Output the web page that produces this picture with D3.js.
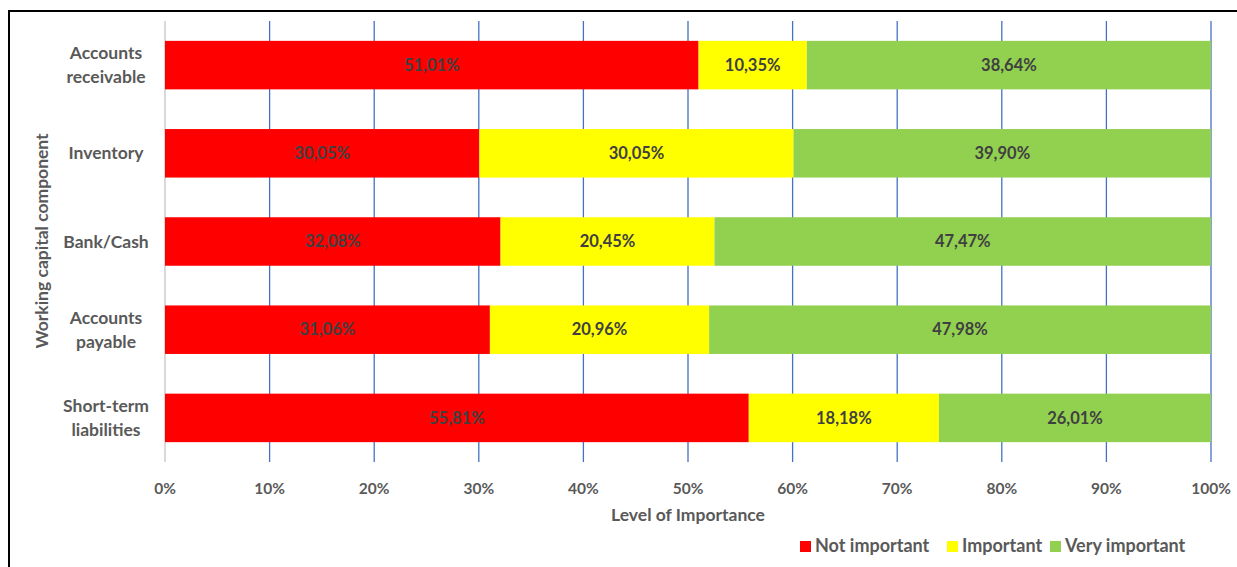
<!DOCTYPE html>
<html>
<head>
<meta charset="utf-8">
<script src="https://cdn.jsdelivr.net/npm/d3@7"></script>
<style>
  body { margin: 0; background: #fff; }
  text { font-family: Lato, "Open Sans", sans-serif; font-weight: bold; fill: #595959; }
</style>
</head>
<body>
<div id="chart"></div>
<script>
// categories, top to bottom
var categories = [
  ['Accounts', 'receivable'],
  ['Inventory'],
  ['Bank/Cash'],
  ['Accounts', 'payable'],
  ['Short-term', 'liabilities']
];
var seriesNames = ['Not important', 'Important', 'Very important'];
var notImportant = [51.01, 30.05, 32.08, 31.06, 55.81];
var important = [10.35, 30.05, 20.45, 20.96, 18.18];
var veryImportant = [38.64, 39.90, 47.47, 47.98, 26.01];
var xTicks = [0, 10, 20, 30, 40, 50, 60, 70, 80, 90, 100];

var colors = ['#ff0000', '#ffff00', '#92d050'];

var width = 1237, height = 567;
var margin = { top: 21, left: 165, right: 26, bottom: 105 };

var svg = d3.select('#chart')
            .append('svg')
            .attr('width', width)
            .attr('height', height);

// outer frame
svg.append('rect')
   .attr('x', 9).attr('y', 11)
   .attr('width', 1240).attr('height', 570)
   .attr('fill', 'none')
   .attr('stroke', '#000')
   .attr('stroke-width', 2);

var x = d3.scaleLinear()
          .domain([0, 100])
          .range([margin.left, width - margin.right]);

var y = d3.scaleBand()
          .domain(d3.range(categories.length))
          .range([margin.top, 462])
          .paddingInner(0.45)
          .paddingOuter(0.225);

// gridlines
svg.append('g')
   .selectAll('line')
   .data(xTicks)
   .enter()
   .append('line')
   .attr('x1', function(d) { return x(d); })
   .attr('x2', function(d) { return x(d); })
   .attr('y1', margin.top)
   .attr('y2', 462)
   .attr('stroke', function(d) { return d === 0 ? '#d9d9d9' : '#4472c4'; })
   .attr('stroke-width', function(d) { return d === 0 ? 2 : 1.3; });

// stacked data
var table = categories.map(function(c, i) {
  return { i: i, 'Not important': notImportant[i], 'Important': important[i], 'Very important': veryImportant[i] };
});
var stack = d3.stack().keys(seriesNames)(table);

var layer = svg.selectAll('.layer')
               .data(stack)
               .enter()
               .append('g')
               .attr('class', 'layer')
               .attr('fill', function(d, k) { return colors[k]; });

layer.selectAll('rect')
     .data(function(d) { return d; })
     .enter()
     .append('rect')
     .attr('x', function(d) { return x(d[0]); })
     .attr('y', function(d) { return y(d.data.i); })
     .attr('width', function(d) { return x(d[1]) - x(d[0]); })
     .attr('height', y.bandwidth());

layer.selectAll('text')
     .data(function(d) { return d; })
     .enter()
     .append('text')
     .attr('x', function(d) { return (x(d[0]) + x(d[1])) / 2; })
     .attr('y', function(d) { return y(d.data.i) + y.bandwidth() / 2; })
     .attr('dy', '0.35em')
     .attr('text-anchor', 'middle')
     .style('font-size', '16.5px')
     .style('fill', '#404040')
     .text(function(d) { return (d[1] - d[0]).toFixed(2).replace('.', ',') + '%'; });

// x tick labels
svg.append('g')
   .selectAll('text')
   .data(xTicks)
   .enter()
   .append('text')
   .attr('x', function(d) { return x(d); })
   .attr('y', 494)
   .attr('text-anchor', 'middle')
   .style('font-size', '15.5px')
   .text(function(d) { return d + '%'; });

// category labels
var cat = svg.append('g')
             .selectAll('text')
             .data(categories)
             .enter()
             .append('text')
             .attr('text-anchor', 'middle')
             .attr('x', 106)
             .attr('y', function(d, i) { return y(i) + y.bandwidth() / 2; })
             .style('font-size', '17.5px');

cat.selectAll('tspan')
   .data(function(d) { return d; })
   .enter()
   .append('tspan')
   .attr('x', 106)
   .attr('dy', function(d, j, nodes) {
     var n = nodes.length;
     return j === 0 ? (0.35 - (n - 1) * 0.68) + 'em' : '1.36em';
   })
   .text(function(d) { return d; });

// axis titles
svg.append('text')
   .attr('x', 688)
   .attr('y', 521)
   .attr('text-anchor', 'middle')
   .style('font-size', '17.5px')
   .text('Level of Importance');

svg.append('text')
   .attr('transform', 'translate(48,' + 241 + ') rotate(-90)')
   .attr('text-anchor', 'middle')
   .style('font-size', '17.5px')
   .text('Working capital component');

// legend
var legendX = [800, 947, 1050];
var legend = svg.append('g')
                .selectAll('g')
                .data(seriesNames)
                .enter()
                .append('g')
                .attr('transform', function(d, k) { return 'translate(' + legendX[k] + ',546)'; });

legend.append('rect')
      .attr('x', 0).attr('y', -5)
      .attr('width', 11).attr('height', 11)
      .attr('fill', function(d, k) { return colors[k]; });

legend.append('text')
      .attr('x', 15)
      .attr('dy', '0.35em')
      .style('font-size', '18px')
      .text(function(d) { return d; });
</script>
</body>
</html>
